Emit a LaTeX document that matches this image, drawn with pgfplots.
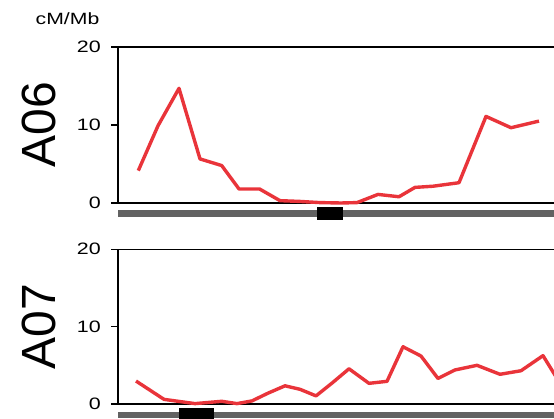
\documentclass[border=0pt]{standalone}
\usepackage{fontspec}
\setmainfont{Liberation Sans}
\newfontfamily\widefont[FakeStretch=1.3]{Liberation Sans}
\usepackage{pgfplots}
\pgfplotsset{compat=1.18}
\definecolor{linered}{RGB}{233,52,58}
\definecolor{bargray}{RGB}{98,98,98}
\pgfplotsset{panel/.style={
  scale only axis, width=462pt, xmin=118, xmax=580, ymin=0, ymax=20,
  enlargelimits=false,
  ytick={0,10,20}, xtick=\empty, ytick pos=left, tick align=outside,
  major tick length=7pt,
  axis line style={line width=1.1pt, black},
  major tick style={line width=1.1pt, black},
  yticklabel style={font=\widefont\fontsize{16.5}{18}\selectfont, anchor=east, inner sep=0pt, xshift=-10pt},
  /pgf/number format/assume math mode=true,
  clip=false, anchor=south west,
}}
\begin{document}
\begin{tikzpicture}
\path[use as bounding box] (0pt,0pt) rectangle (554pt,419pt);
\node[anchor=base, font=\widefont\fontsize{16.3}{18}\selectfont] at (67.5pt,394pt) {cM/Mb};
\node[rotate=90, anchor=base, font=\fontsize{48}{50}\selectfont] at (55pt,294pt) {A06};
\node[rotate=90, anchor=base, font=\fontsize{48}{50}\selectfont] at (55pt,92.3pt) {A07};

\begin{axis}[panel, at={(118pt,216pt)}, height=156pt]
\addplot[draw=none, fill=bargray] coordinates {(118,-0.9) (600,-0.9) (600,-1.76) (118,-1.76)} -- cycle;
\addplot[draw=none, fill=black] coordinates {(317,-0.51) (343,-0.51) (343,-2.18) (317,-2.18)} -- cycle;
\addplot[linered, line width=3.4pt, line join=round] coordinates {
(138.3,4.15) (158,9.9) (179,14.7) (200,5.65) (221.7,4.8) (239,1.8) (259.5,1.8)
(280,0.3) (300,0.2) (320,0.05) (341,0.0) (357,0.05) (378,1.1) (399,0.8)
(415,2.0) (433,2.15) (459,2.6) (486,11.1) (511,9.65) (539,10.5)};
\end{axis}

\begin{axis}[panel, at={(118pt,15pt)}, height=154.7pt]
\addplot[draw=none, fill=bargray] coordinates {(118,-1.07) (600,-1.07) (600,-1.85) (118,-1.85)} -- cycle;
\addplot[draw=none, fill=black] coordinates {(179.3,-0.48) (214,-0.48) (214,-2.3) (179.3,-2.3)} -- cycle;
\addplot[linered, line width=3.4pt, line join=round] coordinates {
(136,2.97) (164,0.6) (195,0.05) (221.7,0.35) (237,0.05) (252,0.4) (268,1.4)
(285,2.35) (300,1.9) (316,1.05) (332,2.7) (349,4.55) (369,2.67) (387,2.93)
(403,7.4) (421,6.2) (438,3.3) (455,4.4) (477,5.0) (500,3.84) (521,4.3)
(543,6.25) (558,3.1)};
\end{axis}
\end{tikzpicture}
\end{document}
